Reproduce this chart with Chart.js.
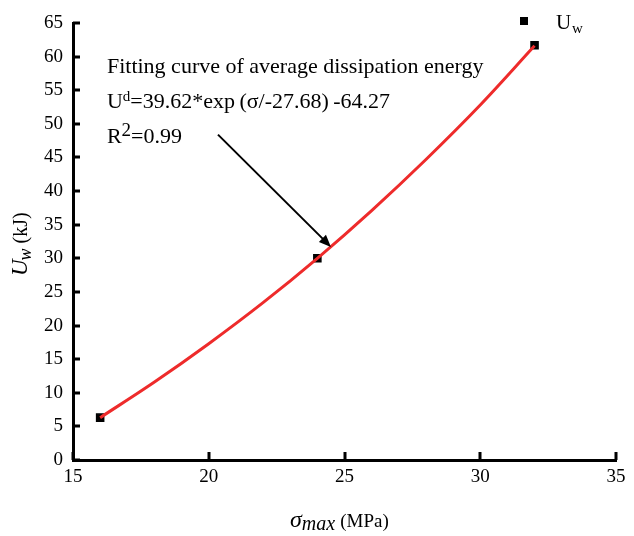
<!DOCTYPE html>
<html>
<head>
<meta charset="utf-8">
<script src="https://cdn.jsdelivr.net/npm/chart.js@4"></script>
<style>
  html, body { margin: 0; padding: 0; background: #fff; }
  #wrap { width: 634px; height: 536px; }
</style>
</head>
<body>
<div id="wrap"><canvas id="chart"></canvas></div>
<script>
// measured points
const stress = [16, 24, 32];
const energy = [6.3, 30.0, 61.7];

// fitted curve
const fitStress = [16, 18, 20, 22, 24, 26, 28, 30, 32];
const fitEnergy = [6.3, 11.6, 17.3, 23.4, 30.0, 37.1, 44.7, 52.8, 61.6];

const xTicks = [15, 20, 25, 30, 35];
const yTicks = [0, 5, 10, 15, 20, 25, 30, 35, 40, 45, 50, 55, 60, 65];

const SERIF = "'Liberation Serif', 'Times New Roman', serif";

// draw inward tick marks, axis titles, legend and the annotation
const extras = {
  id: 'extras',
  afterDraw(chart) {
    const { ctx, chartArea: a, scales: { x, y } } = chart;
    ctx.save();
    ctx.strokeStyle = '#000';
    ctx.lineWidth = 3;
    ctx.beginPath();
    yTicks.forEach(v => {
      const py = Math.round(y.getPixelForValue(v));
      ctx.moveTo(a.left, py);
      ctx.lineTo(a.left + 7, py);
    });
    xTicks.forEach(v => {
      const px = Math.round(x.getPixelForValue(v));
      ctx.moveTo(px, a.bottom);
      ctx.lineTo(px, a.bottom - 8);
    });
    ctx.stroke();

    ctx.fillStyle = '#000';
    ctx.textBaseline = 'alphabetic';

    // x title: sigma_max (MPa)
    let cx = 290, by = 527;
    ctx.font = 'italic 24px ' + SERIF;
    ctx.fillText('σ', cx, by);
    cx += ctx.measureText('σ').width;
    ctx.font = 'italic 20px ' + SERIF;
    ctx.fillText('max', cx, by + 3);
    cx += ctx.measureText('max').width + 5;
    ctx.font = '19px ' + SERIF;
    ctx.fillText('(MPa)', cx, by);

    // y title: U_w (kJ), rotated
    ctx.save();
    ctx.translate(27, 276);
    ctx.rotate(-Math.PI / 2);
    let tx = 0;
    ctx.font = 'italic 23px ' + SERIF;
    ctx.fillText('U', tx, 0);
    tx += ctx.measureText('U').width - 1;
    ctx.font = 'italic 18px ' + SERIF;
    ctx.fillText('w', tx, 4);
    tx += ctx.measureText('w').width + 5;
    ctx.font = '20px ' + SERIF;
    ctx.fillText('(kJ)', tx, 0);
    ctx.restore();

    // legend
    ctx.fillRect(520, 17, 8, 8);
    ctx.font = '21px ' + SERIF;
    ctx.fillText('U', 556, 29);
    ctx.font = '15px ' + SERIF;
    ctx.fillText('w', 572, 33);

    // annotation text
    const lx = x.getPixelForValue(16.25);
    ctx.font = '22px ' + SERIF;
    ctx.fillText('Fitting curve of average dissipation energy', lx, y.getPixelForValue(57.6));
    let ly = y.getPixelForValue(52.3);
    ctx.fillText('U', lx, ly);
    let w = ctx.measureText('U').width;
    ctx.font = '15px ' + SERIF;
    ctx.fillText('d', lx + w, ly - 7);
    w += ctx.measureText('d').width;
    ctx.font = '22px ' + SERIF;
    ctx.fillText('=39.62*exp\u2009(σ/-27.68)\u2009-64.27', lx + w, ly);
    ly = y.getPixelForValue(47.1);
    ctx.fillText('R', lx, ly);
    w = ctx.measureText('R').width;
    ctx.font = '19px ' + SERIF;
    ctx.fillText('2', lx + w, ly - 7);
    w += ctx.measureText('2').width;
    ctx.font = '22px ' + SERIF;
    ctx.fillText('=0.99', lx + w, ly);

    // arrow
    const x0 = x.getPixelForValue(20.34), y0 = y.getPixelForValue(48.4);
    const x1 = x.getPixelForValue(24.5), y1 = y.getPixelForValue(31.7);
    const ang = Math.atan2(y1 - y0, x1 - x0);
    ctx.lineWidth = 2;
    ctx.beginPath();
    ctx.moveTo(x0, y0);
    ctx.lineTo(x1 - 6 * Math.cos(ang), y1 - 6 * Math.sin(ang));
    ctx.stroke();
    ctx.beginPath();
    ctx.moveTo(x1, y1);
    ctx.lineTo(x1 - 12 * Math.cos(ang) + 5 * Math.sin(ang), y1 - 12 * Math.sin(ang) - 5 * Math.cos(ang));
    ctx.lineTo(x1 - 12 * Math.cos(ang) - 5 * Math.sin(ang), y1 - 12 * Math.sin(ang) + 5 * Math.cos(ang));
    ctx.closePath();
    ctx.fill();
    ctx.restore();
  }
};

new Chart(document.getElementById('chart'), {
  type: 'scatter',
  data: {
    datasets: [
      {
        label: 'fit',
        type: 'line',
        data: fitStress.map((s, i) => ({ x: s, y: fitEnergy[i] })),
        borderColor: '#ee2b2b',
        borderWidth: 3,
        pointRadius: 0,
        cubicInterpolationMode: 'monotone',
        fill: false,
        order: 0
      },
      {
        label: 'Uw',
        data: stress.map((s, i) => ({ x: s, y: energy[i] })),
        pointStyle: 'rect',
        pointRadius: 5,
        backgroundColor: '#000',
        borderColor: '#000',
        borderWidth: 1.5,
        order: 1
      }
    ]
  },
  plugins: [extras],
  options: {
    responsive: true,
    maintainAspectRatio: false,
    animation: false,
    layout: { padding: { top: 23, right: 18, left: 0, bottom: 0 } },
    plugins: {
      legend: { display: false },
      tooltip: { enabled: false }
    },
    scales: {
      x: {
        type: 'linear',
        min: 15,
        max: 35,
        afterFit: s => { s.height = 76; },
        afterBuildTicks: s => { s.ticks = xTicks.map(v => ({ value: v })); },
        grid: { display: true, drawOnChartArea: false, drawTicks: false },
        border: { display: true, color: '#000', width: 3 },
        ticks: {
          color: '#000',
          padding: 6,
          maxRotation: 0,
          font: { family: SERIF, size: 19 }
        }
      },
      y: {
        min: 0,
        max: 65,
        afterFit: s => { s.width = 73; },
        afterBuildTicks: s => { s.ticks = yTicks.map(v => ({ value: v })); },
        grid: { display: true, drawOnChartArea: false, drawTicks: false },
        border: { display: true, color: '#000', width: 3 },
        ticks: {
          color: '#000',
          padding: 10,
          font: { family: SERIF, size: 19 }
        }
      }
    }
  }
});
</script>
</body>
</html>
